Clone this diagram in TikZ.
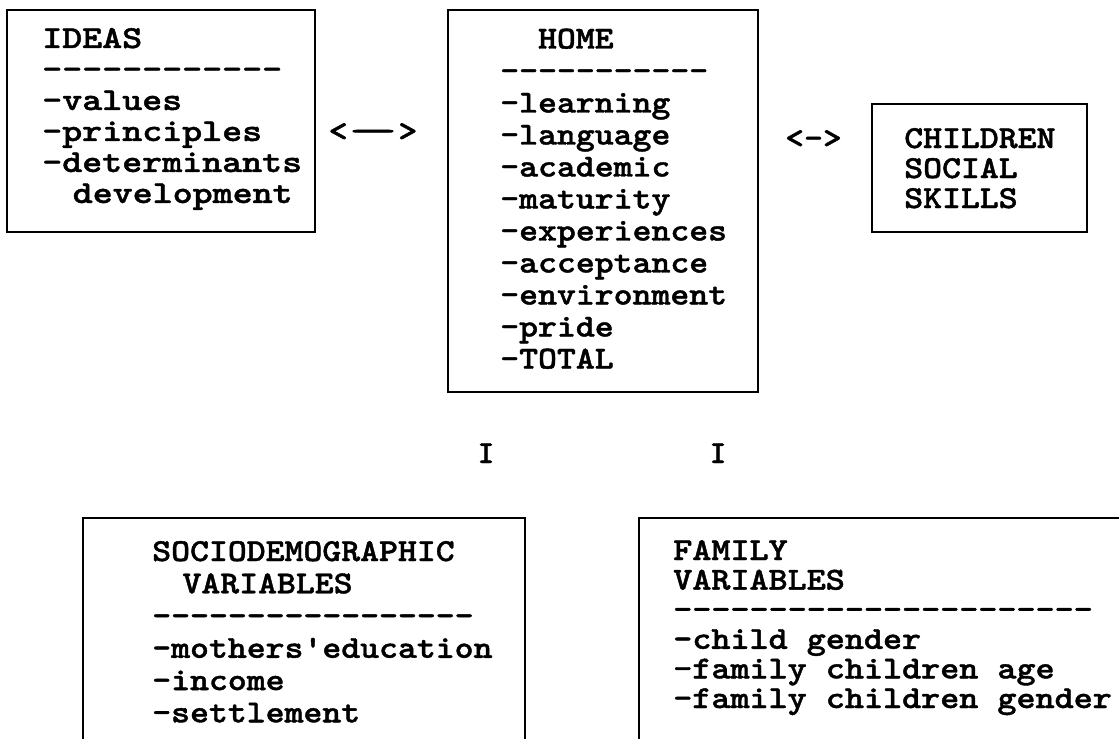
\documentclass[tikz,border=0pt]{standalone}
\usepackage{fontspec}
\setmonofont{lmmono10-regular.otf}[BoldFont=lmmonolt10-bold.otf,BoldFeatures={FakeBold=1.2}]
\newcommand\linestack[3]{\scalebox{#1}[1]{\vtop{\baselineskip=#2\lineskiplimit=-100pt\lineskip=0pt\relax #3}}}
\begin{document}
\begin{tikzpicture}[x=0.75pt,y=-0.75pt,
  boxline/.style={line width=1.5pt, line join=miter, line cap=rect},
  txt/.style={anchor=base west, inner sep=0pt, font=\ttfamily\bfseries\fontsize{24}{24}\selectfont},
  sym/.style={txt, anchor=base},
]
\useasboundingbox (0,0) rectangle (1119,738);

% boxes
\draw[boxline] (7,10) rectangle (315,232);
\draw[boxline] (448,10) rectangle (758,392);
\draw[boxline] (872,104) rectangle (1087,232);
\draw[boxline] (83,738) -- (83,518) -- (525,518) -- (525,738);
\draw[boxline] (639,738) -- (639,518) -- (1119,518);

% box contents
\node[txt] (ideas) at (42,48) {\linestack{1.19}{23.25pt}{%
  \hbox{IDEAS}
  \hbox{------------}
  \hbox{-values}
  \hbox{-principles}
  \hbox{-determinants}
  \hbox{\hspace*{0.8em}development}}};

\node[txt] (home) at (500,48.5) {\linestack{1.125}{24pt}{%
  \hbox{\ \ HOME}
  \hbox{-----------}
  \hbox{-learning}
  \hbox{-language}
  \hbox{-academic}
  \hbox{-maturity}
  \hbox{-experiences}
  \hbox{-acceptance}
  \hbox{-environment}
  \hbox{-pride}
  \hbox{-TOTAL}}};

\node[txt] (children) at (904,148) {\linestack{1.125}{22.5pt}{%
  \hbox{CHILDREN}
  \hbox{SOCIAL}
  \hbox{SKILLS}}};

\node[txt] (socio) at (152,561) {\linestack{1.125}{24.2pt}{%
  \hbox{SOCIODEMOGRAPHIC}
  \hbox{\hspace*{0.84em}VARIABLES}
  \hbox{-----------------}
  \hbox{-mothers'education}
  \hbox{-income}
  \hbox{-settlement}}};

\node[txt] (family) at (673,560) {\linestack{1.135}{22.2pt}{%
  \hbox{FAMILY}
  \hbox{VARIABLES}
  \hbox{----------------------}
  \hbox{-child gender}
  \hbox{-family children age}
  \hbox{-family children gender}}};

% typed links
\node[sym] (linkA) at (373,141) {\scalebox{1.15}[1]{<\scalebox{2.6}[1]{—}>}};
\node[sym] (linkB) at (813.5,148) {\scalebox{1.125}[1]{<->}};
\node[sym] (markA) at (486,463) {I};
\node[sym] (markB) at (718,463) {I};
\end{tikzpicture}
\end{document}
